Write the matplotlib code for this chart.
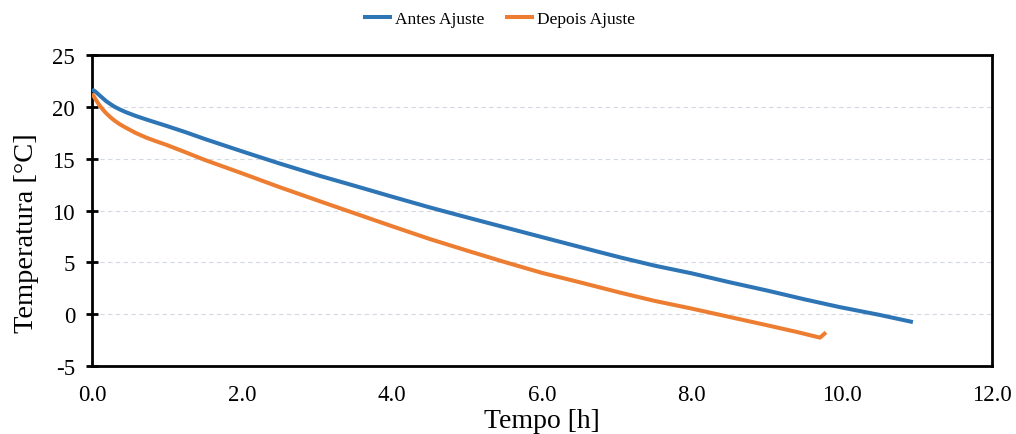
import matplotlib
matplotlib.use("Agg")
import matplotlib.pyplot as plt

plt.rcParams['font.family'] = ['Liberation Serif', 'DejaVu Serif']
plt.rcParams['axes.unicode_minus'] = False

# Cooling curves: time [h] vs temperature [°C]
t_antes = [0.00, 0.05, 0.10, 0.15, 0.19, 0.25, 0.30, 0.37, 0.45, 0.58, 0.72, 0.85, 0.99,
           1.25, 1.50, 2.00, 2.50, 3.04, 3.50, 4.00, 4.51, 5.00, 5.50, 6.00, 6.77, 7.04,
           7.50, 8.00, 8.50, 9.00, 9.50, 9.97, 10.50, 10.95]
temp_antes = [21.7, 21.45, 21.12, 20.8, 20.55, 20.25, 20.02, 19.76, 19.5, 19.14, 18.8, 18.5, 18.18,
              17.56, 16.92, 15.72, 14.55, 13.35, 12.4, 11.35, 10.3, 9.35, 8.4, 7.45, 6.0, 5.5,
              4.7, 3.95, 3.1, 2.3, 1.45, 0.7, -0.05, -0.75]

t_depois = [0.00, 0.05, 0.10, 0.15, 0.19, 0.25, 0.30, 0.37, 0.45, 0.58, 0.72, 0.85, 0.99,
            1.25, 1.50, 2.00, 2.50, 3.04, 3.50, 4.00, 4.51, 5.00, 5.50, 6.00, 6.50, 7.04,
            7.50, 8.00, 8.50, 9.00, 9.40, 9.71, 9.79]
temp_depois = [21.3, 20.7, 20.15, 19.7, 19.38, 18.98, 18.68, 18.33, 18.0, 17.5, 17.05, 16.7, 16.35,
               15.62, 14.9, 13.6, 12.27, 10.9, 9.75, 8.5, 7.25, 6.15, 5.05, 4.0, 3.1, 2.1,
               1.3, 0.55, -0.25, -1.05, -1.7, -2.25, -1.75]

series_labels = ["Antes Ajuste", "Depois Ajuste"]
x_ticks = [0, 2, 4, 6, 8, 10, 12]
y_ticks = [-5, 0, 5, 10, 15, 20, 25]

fig = plt.figure(figsize=(10.16, 4.35), dpi=100)
ax = fig.add_axes([0.0906, 0.156, 0.8854, 0.715])

ax.plot(t_antes, temp_antes, color="#2E75B6", lw=2.9, label=series_labels[0],
        solid_capstyle="butt", solid_joinstyle="round", zorder=3)
ax.plot(t_depois, temp_depois, color="#ED7D31", lw=2.9, label=series_labels[1],
        solid_capstyle="butt", solid_joinstyle="round", zorder=3)

ax.set_xlim(0, 12)
ax.set_ylim(-5, 25)
ax.set_xticks(x_ticks)
ax.set_xticklabels([f"{v:.1f}" for v in x_ticks])
ax.set_yticks(y_ticks)

for y in y_ticks[1:-1]:
    ax.axhline(y, color="#D3DAE3", lw=0.8, ls=(0, (4, 3)), zorder=1)

for s in ax.spines.values():
    s.set_linewidth(2.0)
    s.set_color("black")

ax.tick_params(axis="y", direction="inout", length=8.5, width=2, labelsize=16.5, pad=8)
ax.tick_params(axis="x", length=0, labelsize=16.5, pad=13)

ax.set_xlabel("Tempo [h]", fontsize=20, labelpad=2)
ax.set_ylabel("Temperatura [°C]", fontsize=20.5)
ax.yaxis.set_label_coords(-0.059, 0.43)

fig.legend(loc="center", bbox_to_anchor=(0.491, 0.955), ncol=2, frameon=False,
           fontsize=12.5, handlelength=1.7, handletextpad=0.15, columnspacing=1.2)

fig.savefig("out.png", dpi=100, facecolor="white")
